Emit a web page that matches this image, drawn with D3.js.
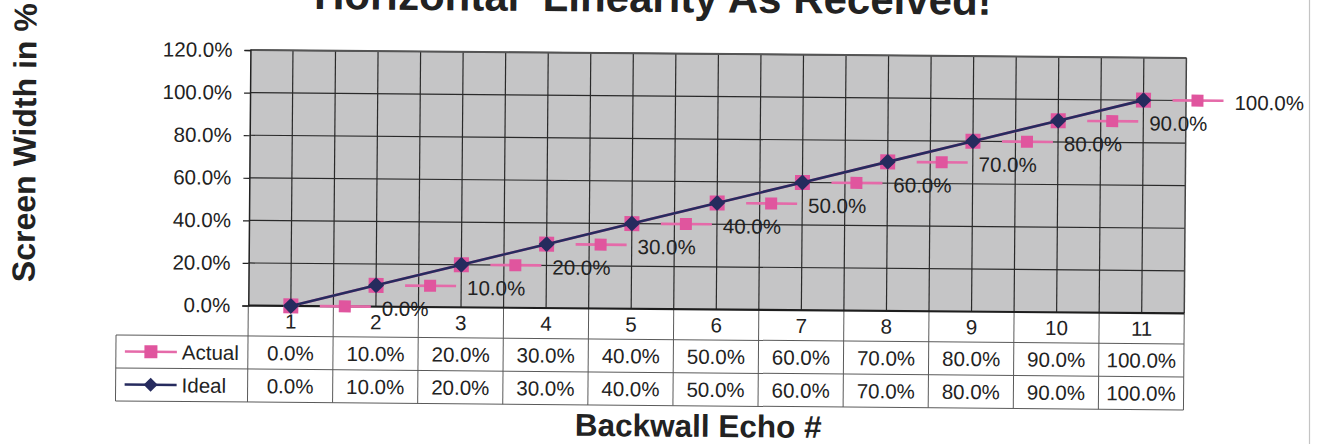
<!DOCTYPE html>
<html>
<head>
<meta charset="utf-8">
<script src="https://cdn.jsdelivr.net/npm/d3@7/dist/d3.min.js"></script>
<style>
  html, body { margin: 0; padding: 0; background: #fff; }
  svg { display: block; }
  text { font-family: "Liberation Sans", Arial, sans-serif; fill: #222; }
</style>
</head>
<body>
<svg id="chart" width="1317" height="444"></svg>
<script>
// Echo numbers along the category axis
const categories = ["1", "2", "3", "4", "5", "6", "7", "8", "9", "10", "11"];
// Measured screen position of each backwall echo (fraction of screen width)
const actual = [0.0, 0.1, 0.2, 0.3, 0.4, 0.5, 0.6, 0.7, 0.8, 0.9, 1.0];
// Ideal screen position of each backwall echo
const ideal = [0.0, 0.1, 0.2, 0.3, 0.4, 0.5, 0.6, 0.7, 0.8, 0.9, 1.0];
// Value axis ticks
const yTicks = [0.0, 0.2, 0.4, 0.6, 0.8, 1.0, 1.2];

const seriesNames = ["Actual", "Ideal"];
const pink = "#e0559e", pinkLine = "#e56aa9", navy = "#262b5e";
const fs = 20.5;

const svg = d3.select("#chart");
svg.append("rect").attr("width", 1317).attr("height", 444).attr("fill", "#fff");

// page edge at the right
svg.append("line").attr("x1", 1309.5).attr("x2", 1309.5).attr("y1", 0).attr("y2", 444)
  .attr("stroke", "#c4c4c4").attr("stroke-width", 1.2);

const g = svg.append("g").attr("transform", "rotate(0.48, 660, 222)");

const plot = { left: 249, right: 1185, top: 53.5, bottom: 309 };
const tableLeft = 117;
const rowBounds = [309, 339.5, 372.5, 405.5];

const x = d3.scaleBand().domain(categories).range([plot.left, plot.right]).padding(0);
const y = d3.scaleLinear().domain([0, 1.2]).range([plot.bottom, plot.top]);
const fmt = d3.format(".1%");
const cx = c => x(c) + x.bandwidth() / 2;

// title
g.append("text")
  .attr("x", 651).attr("y", 12)
  .attr("text-anchor", "middle")
  .attr("font-size", 42).attr("font-weight", "bold")
  .style("white-space", "pre")
  .attr("fill", "#2a2a2a")
  .text("Horizontal  Linearity As Received!");

// plot background
g.append("rect")
  .attr("x", plot.left).attr("y", plot.top)
  .attr("width", plot.right - plot.left).attr("height", plot.bottom - plot.top)
  .attr("fill", "#c5c5c6");

// horizontal gridlines
g.append("g").selectAll("line").data(yTicks.slice(1)).join("line")
  .attr("x1", plot.left).attr("x2", plot.right)
  .attr("y1", d => y(d)).attr("y2", d => y(d))
  .attr("stroke", "#2a2a2a").attr("stroke-width", 1.2);

// vertical gridlines at category edges and centres
const vLines = [];
categories.forEach((c, i) => {
  if (i > 0) vLines.push(x(c));
  vLines.push(cx(c));
});
g.append("g").selectAll("line").data(vLines).join("line")
  .attr("x1", d => d).attr("x2", d => d)
  .attr("y1", plot.top).attr("y2", plot.bottom)
  .attr("stroke", "#2a2a2a").attr("stroke-width", 1.2);

// plot frame
g.append("line").attr("x1", plot.left).attr("x2", plot.right).attr("y1", plot.top).attr("y2", plot.top)
  .attr("stroke", "#555").attr("stroke-width", 2);
g.append("line").attr("x1", plot.right).attr("x2", plot.right).attr("y1", plot.top).attr("y2", plot.bottom)
  .attr("stroke", "#444").attr("stroke-width", 1.5);

// value axis
const yAxis = d3.axisLeft(y).tickValues(yTicks).tickFormat(fmt).tickSize(6).tickPadding(12);
const ya = g.append("g").attr("transform", `translate(${plot.left},0)`).call(yAxis);
ya.attr("font-size", fs).attr("font-family", "'Liberation Sans', Arial, sans-serif");
ya.select(".domain").attr("stroke", "#222").attr("stroke-width", 1.5);
ya.selectAll(".tick line").attr("stroke", "#222").attr("stroke-width", 1.2);
ya.selectAll(".tick text").attr("fill", "#222");

// data table
const tbl = g.append("g").attr("stroke", "#5a5a5a").attr("stroke-width", 1);
[1, 2, 3].forEach(k => {
  tbl.append("line").attr("x1", tableLeft).attr("x2", plot.right)
    .attr("y1", rowBounds[k]).attr("y2", rowBounds[k]);
});
// left edge of legend column
tbl.append("line").attr("x1", tableLeft).attr("x2", tableLeft).attr("y1", rowBounds[1]).attr("y2", rowBounds[3]);
// column rules
const colEdges = categories.map(c => x(c)).concat([plot.right]);
tbl.selectAll("line.col").data(colEdges).join("line").attr("class", "col")
  .attr("x1", d => d).attr("x2", d => d)
  .attr("y1", rowBounds[0]).attr("y2", rowBounds[3]);

// category axis line
g.append("line").attr("x1", plot.left).attr("x2", plot.right).attr("y1", plot.bottom).attr("y2", plot.bottom)
  .attr("stroke", "#1e1e1e").attr("stroke-width", 2.2);

// category labels
g.append("g").selectAll("text").data(categories).join("text")
  .attr("x", d => cx(d)).attr("y", (rowBounds[0] + rowBounds[1]) / 2 + 7.5)
  .attr("text-anchor", "middle").attr("font-size", fs)
  .text(d => d);

// table values
[actual, ideal].forEach((vals, r) => {
  const yMid = (rowBounds[r + 1] + rowBounds[r + 2]) / 2;
  g.append("g").selectAll("text").data(vals).join("text")
    .attr("x", (d, i) => cx(categories[i])).attr("y", yMid + 7.5)
    .attr("text-anchor", "middle").attr("font-size", fs)
    .text(d => fmt(d));
});

// marker helpers
const square = (sel, px, py, s, fill) =>
  sel.append("rect").attr("x", px - s / 2).attr("y", py - s / 2).attr("width", s).attr("height", s).attr("fill", fill);
const diamond = (sel, px, py, s, fill) =>
  sel.append("path").attr("d", `M${px},${py - s / 2}L${px + s / 2},${py}L${px},${py + s / 2}L${px - s / 2},${py}Z`).attr("fill", fill);

// legend keys inside the table
seriesNames.forEach((name, r) => {
  const yMid = (rowBounds[r + 1] + rowBounds[r + 2]) / 2;
  const key = g.append("g");
  key.append("line").attr("x1", 126).attr("x2", 178).attr("y1", yMid).attr("y2", yMid)
    .attr("stroke", r === 0 ? pinkLine : navy).attr("stroke-width", 2.6);
  if (r === 0) square(key, 152, yMid, 13, pink);
  else diamond(key, 152, yMid, 14, navy);
  key.append("text").attr("x", 183).attr("y", yMid + 7.5).attr("font-size", fs).text(name);
});

// Actual series
const line = d3.line().x((d, i) => cx(categories[i])).y(d => y(d));
g.append("path").datum(actual).attr("d", line)
  .attr("fill", "none").attr("stroke", pinkLine).attr("stroke-width", 2.6);
const aMarks = g.append("g");
actual.forEach((v, i) => square(aMarks, cx(categories[i]), y(v), 15, pink));

// Ideal series
g.append("path").datum(ideal).attr("d", line)
  .attr("fill", "none").attr("stroke", navy).attr("stroke-width", 2.6);
const iMarks = g.append("g");
ideal.forEach((v, i) => diamond(iMarks, cx(categories[i]), y(v), 16, navy));

// Actual data labels, each with its legend key
const labels = g.append("g");
actual.forEach((v, i) => {
  const px = cx(categories[i]), py = y(v);
  labels.append("line").attr("x1", px + 29).attr("x2", px + 80).attr("y1", py).attr("y2", py)
    .attr("stroke", pinkLine).attr("stroke-width", 2.6);
  square(labels, px + 54, py, 12, pink);
  labels.append("text").attr("x", px + 91).attr("y", py + 9)
    .attr("font-size", fs).text(fmt(v));
});

// axis titles
g.append("text")
  .attr("transform", "translate(35,148) rotate(-90)")
  .attr("text-anchor", "middle").attr("font-size", 32).attr("font-weight", "bold")
  .attr("fill", "#2a2a2a")
  .text("Screen Width in %");

g.append("text")
  .attr("x", 700).attr("y", 436.5)
  .attr("text-anchor", "middle").attr("font-size", 31.5).attr("font-weight", "bold")
  .attr("fill", "#2a2a2a")
  .text("Backwall Echo #");
</script>
</body>
</html>
